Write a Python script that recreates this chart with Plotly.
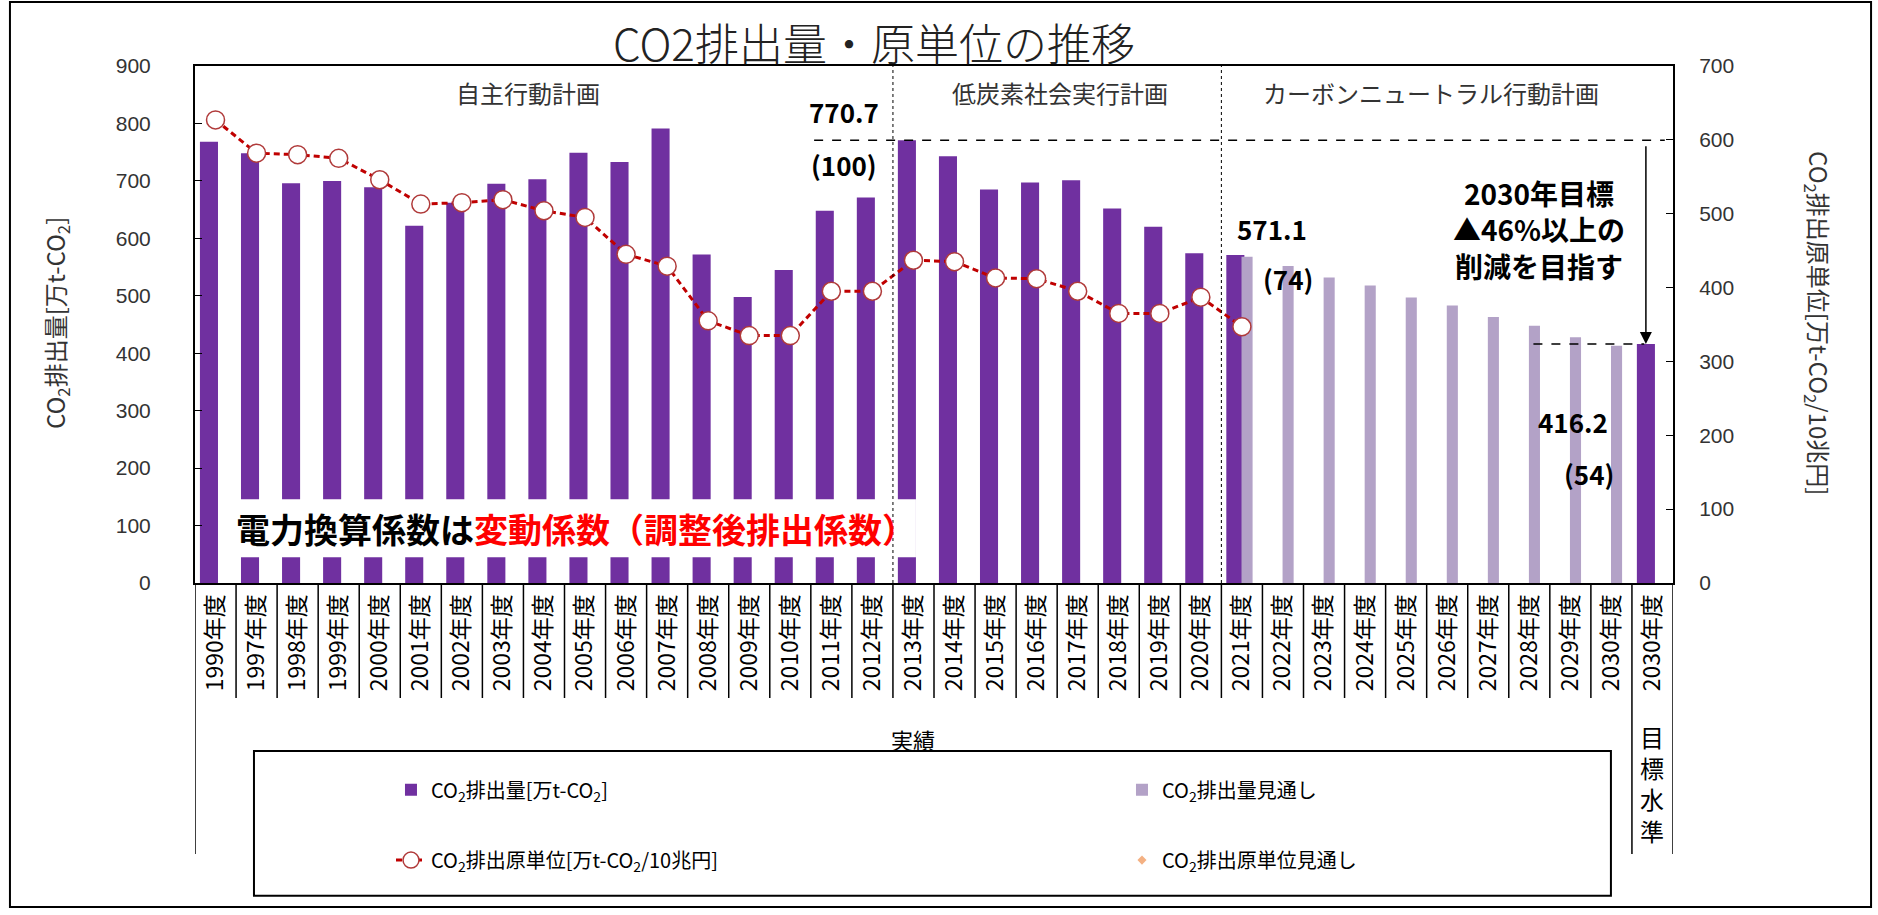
import plotly.graph_objects as go

# ---------------- data ----------------
categories = ["1990年度", "1997年度", "1998年度", "1999年度", "2000年度", "2001年度",
              "2002年度", "2003年度", "2004年度", "2005年度", "2006年度", "2007年度",
              "2008年度", "2009年度", "2010年度", "2011年度", "2012年度", "2013年度",
              "2014年度", "2015年度", "2016年度", "2017年度", "2018年度", "2019年度",
              "2020年度", "2021年度", "2022年度", "2023年度", "2024年度", "2025年度",
              "2026年度", "2027年度", "2028年度", "2029年度", "2030年度", "2030年度"]

# CO2 emissions (actual + 2030 target level) [万t-CO2]
emissions_actual = [768, 748, 696, 700, 689, 622, 662, 695, 703, 749, 733, 791,
                    572, 498, 545, 648, 671, 770.7, 743, 685, 697, 701, 652, 620,
                    574, 571.1, None, None, None, None, None, None, None, None, None,
                    416.2]
# CO2 emissions outlook [万t-CO2]
emissions_outlook = [None] * 25 + [568, 552, 532, 518, 497, 483, 463, 448, 428, 413] + [None]
# CO2 intensity (right axis) [万t-CO2/10兆円]
intensity = [627, 582, 580, 575, 546, 513, 515, 519, 504, 495, 445, 429, 355, 335,
             335, 395, 395, 437, 435, 413, 412, 395, 365, 365, 387, 347]

base_value = 770.7      # 2013年度
latest_value = 571.1    # 2021年度
target_value = 416.2    # 2030年目標

left_ticks = [0, 100, 200, 300, 400, 500, 600, 700, 800, 900]
right_ticks = [0, 100, 200, 300, 400, 500, 600, 700]

FONT = "Noto Sans CJK JP"
xs = list(range(len(categories)))

fig = go.Figure()

fig.add_bar(x=xs, y=emissions_actual, name="CO<sub>2</sub>排出量[万t-CO<sub>2</sub>]",
            marker=dict(color="#7030A0", line_width=0), width=0.44, offset=-0.38,
            legend="legend", legendrank=1)
fig.add_bar(x=xs, y=emissions_outlook, name="CO<sub>2</sub>排出量見通し",
            marker=dict(color="#B3A2C7", line_width=0), width=0.27, offset=-0.01,
            legend="legend", legendrank=2)
fig.add_scatter(x=xs[:len(intensity)], y=intensity, yaxis="y2", mode="lines+markers",
                name="CO<sub>2</sub>排出原単位[万t-CO<sub>2</sub>/10兆円]",
                line=dict(color="#C00000", width=3, dash="6px,4px"),
                marker=dict(symbol="circle", size=18, color="white",
                            line=dict(color="#B03A3A", width=1.5)),
                legend="legend2", legendrank=3)
fig.add_scatter(x=[None], y=[None], yaxis="y2", mode="markers",
                name="CO<sub>2</sub>排出原単位見通し",
                marker=dict(symbol="diamond", size=7, color="#F4B183"),
                legend="legend2", legendrank=4)

# ---------------- shapes ----------------
shapes = []
# white note box
shapes.append(dict(type="rect", xref="x", yref="y", x0=0.16, x1=17.06, y0=45, y1=146,
                   fillcolor="white", line_width=0, layer="above"))
# section separators
for b in [16.5, 24.5]:
    shapes.append(dict(type="line", xref="x", yref="y", x0=b, x1=b, y0=0, y1=900,
                       line=dict(color="black", width=1, dash="dot"), layer="above"))
# reference dashed lines
shapes.append(dict(type="line", xref="x", yref="y", x0=14.58, x1=35.3, y0=base_value, y1=base_value,
                   line=dict(color="black", width=1.5, dash="dash"), layer="above"))
shapes.append(dict(type="line", xref="x", yref="y", x0=32.1, x1=34.8, y0=target_value, y1=target_value,
                   line=dict(color="black", width=1.5, dash="dash"), layer="above"))
# category separators (multi-level axis)
for i in range(1, 35):
    shapes.append(dict(type="line", xref="x", yref="paper", x0=i - 0.5, x1=i - 0.5,
                       y0=0, y1=-0.2224, line=dict(color="black", width=1.5)))
for b in [-0.5, 34.5, 35.5]:
    shapes.append(dict(type="line", xref="x", yref="paper", x0=b, x1=b,
                       y0=0, y1=-0.524, line=dict(color="black", width=1.5)))
# legend frame
shapes.append(dict(type="rect", xref="paper", yref="paper", x0=0.0399, x1=0.958,
                   y0=-0.605, y1=-0.325, line=dict(color="black", width=2)))
# outer border
shapes.append(dict(type="rect", xref="paper", yref="paper", x0=-0.1252, x1=1.134,
                   y0=-0.6267, y1=1.1238, line=dict(color="black", width=2)))

# ---------------- annotations ----------------
def A(**kw):
    d = dict(showarrow=False, xanchor="center", yanchor="middle")
    d.update(kw)
    return d

bold = dict(family=FONT, size=26, color="black")
ann = []
ann.append(A(text="CO2排出量・原単位の推移", xref="paper", yref="paper", x=0.4594, y=1.046,
             font=dict(family=FONT, size=44, color="#222", weight=300)))
for txt, xc in [("自主行動計画", 7.6), ("低炭素社会実行計画", 20.57), ("カーボンニュートラル行動計画", 29.6)]:
    ann.append(A(text=txt, xref="x", yref="paper", x=xc, y=0.948,
                 font=dict(family=FONT, size=24, color="#333")))
ann.append(A(text="<b>%.1f</b>" % base_value, xref="x", yref="y", x=15.31, y=820, font=bold))
ann.append(A(text="<b>(%d)</b>" % round(base_value / base_value * 100), xref="x", yref="y",
             x=15.31, y=728, font=bold))
ann.append(A(text="<b>%.1f</b>" % latest_value, xref="x", yref="y", x=25.74, y=617, font=bold))
ann.append(A(text="<b>(%d)</b>" % round(latest_value / base_value * 100), xref="x", yref="y",
             x=26.13, y=530, font=bold))
ann.append(A(text="<b>%.1f</b>" % target_value, xref="x", yref="y", x=33.07, y=281, font=bold))
ann.append(A(text="<b>(%d)</b>" % round(target_value / base_value * 100), xref="x", yref="y",
             x=33.46, y=191, font=bold))
ann.append(A(text="<b>2030年目標<br>▲46%以上の<br>削減を目指す</b>", xref="x", yref="y",
             x=32.24, y=615, font=dict(family=FONT, size=28, color="black")))
# arrow from base line to target
ann.append(dict(text="", xref="x", yref="y", axref="x", ayref="y", x=34.84, y=target_value,
                ax=34.84, ay=base_value - 8, showarrow=True, arrowhead=2, arrowsize=1.6,
                arrowwidth=1.5, arrowcolor="black"))
# note box text
ann.append(A(text="<b>電力換算係数は<span style='color:#FF0000'>変動係数（調整後排出係数）</span></b>",
             xref="x", yref="y", x=8.78, y=95.5,
             font=dict(family=FONT, size=34, color="black")))
# axis titles
ann.append(A(text="CO<sub>2</sub>排出量[万t-CO<sub>2</sub>]", xref="paper", yref="paper",
             x=-0.094, y=0.503, textangle=-90,
             font=dict(family=FONT, size=24, color="#333")))
ann.append(A(text="CO<sub>2</sub>排出原単位[万t-CO<sub>2</sub>/10兆円]", xref="paper", yref="paper",
             x=1.098, y=0.503, textangle=90,
             font=dict(family=FONT, size=24, color="#333")))
# category group labels
ann.append(A(text="実績", xref="x", yref="paper", x=17, y=-0.302,
             font=dict(family=FONT, size=22, color="black")))
ann.append(A(text="目<br>標<br>水<br>準", xref="x", yref="paper", x=35, y=-0.387,
             font=dict(family=FONT, size=24, color="black")))

legend_common = dict(orientation="h", xanchor="left", yanchor="middle", entrywidth=686,
                     font=dict(family=FONT, size=20, color="black"), bgcolor="rgba(0,0,0,0)",
                     borderwidth=0, itemwidth=30)

fig.update_layout(
    width=1878, height=915, autosize=False,
    margin=dict(l=195, r=205, t=66, b=332, pad=0),
    paper_bgcolor="white", plot_bgcolor="white",
    barmode="overlay",
    font=dict(family=FONT, color="black"),
    showlegend=True,
    legend=dict(x=0.1326, y=-0.400, **legend_common),
    legend2=dict(x=0.1326, y=-0.536, **legend_common),
    xaxis=dict(range=[-0.5, 35.5], tickmode="array", tickvals=xs, ticktext=categories,
               tickangle=-90, ticks="", showline=True, mirror=True, linecolor="black",
               linewidth=2, showgrid=False, zeroline=False,
               tickfont=dict(family=FONT, size=23, color="black")),
    yaxis=dict(range=[0, 900], tickmode="array", tickvals=left_ticks, ticks="inside", ticklen=7,
               tickcolor="black", showline=True, linecolor="black", linewidth=2,
               showgrid=False, zeroline=False, ticklabelstandoff=38,
               tickfont=dict(family="Liberation Sans", size=21, color="#333")),
    yaxis2=dict(range=[0, 700], tickmode="array", tickvals=right_ticks, ticks="inside", ticklen=7,
                tickcolor="black", overlaying="y", side="right", showline=True,
                linecolor="black", linewidth=2, showgrid=False, zeroline=False,
                ticklabelstandoff=20,
                tickfont=dict(family="Liberation Sans", size=21, color="#333")),
    shapes=shapes, annotations=ann,
)

fig.write_html("out.html", config={"displayModeBar": False},
               post_script="document.body.style.margin='0px';document.body.style.overflow='hidden';")
